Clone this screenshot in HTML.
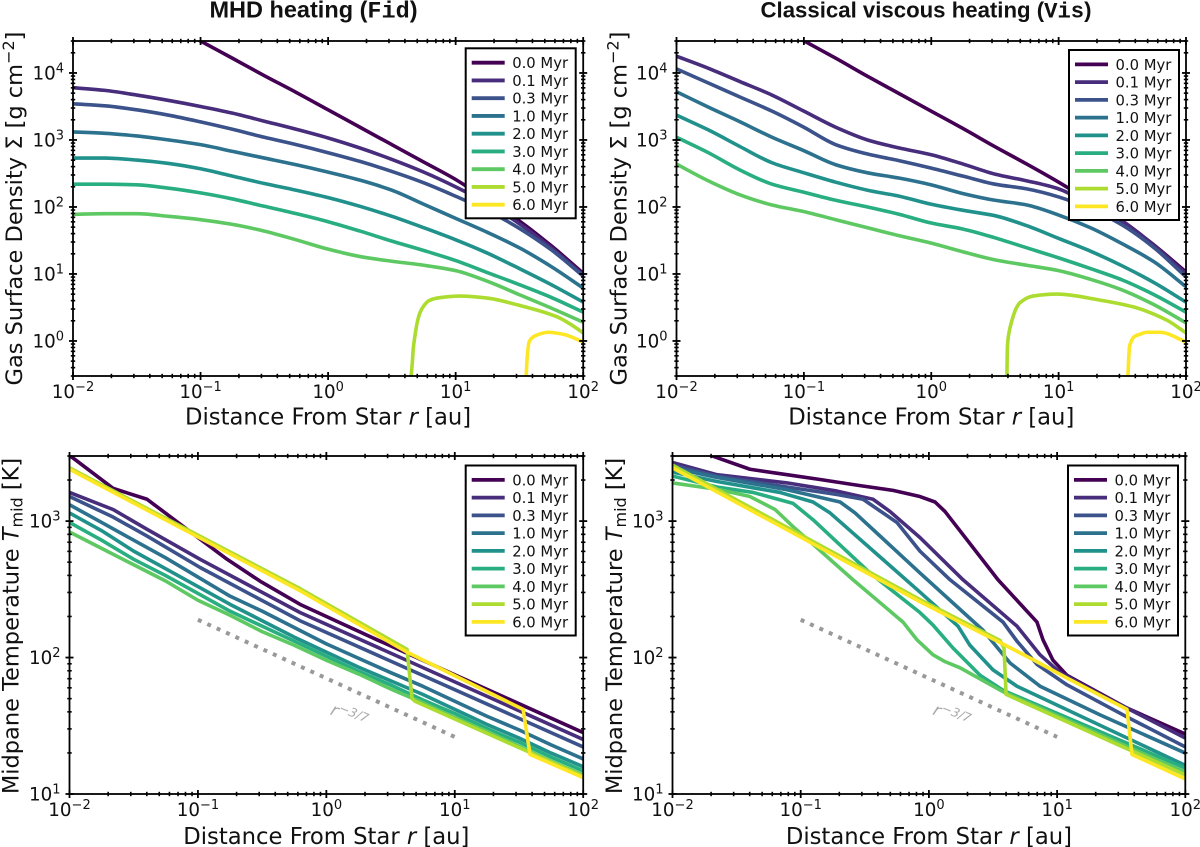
<!DOCTYPE html>
<html lang="en">
<head>
<meta charset="utf-8">
<title>Gas surface density and midplane temperature evolution</title>
<style>
html,body{margin:0;padding:0;background:#fff;width:1200px;height:847px;overflow:hidden}
svg{display:block}
text{font-family:"DejaVu Sans","Liberation Sans",sans-serif;fill:#111}
.title{font-family:"Liberation Sans",sans-serif;font-weight:700;font-size:23.5px}
.mono{font-family:"Liberation Mono","DejaVu Sans Mono",monospace;font-weight:700}
</style>
</head>
<body>
<svg id="figure" xmlns="http://www.w3.org/2000/svg" width="1200" height="847" viewBox="0 0 1200 847">
<rect width="1200" height="847" fill="#fff"/>
<text class="title" x="313.5" y="17.5" text-anchor="middle">MHD heating (<tspan class="mono">Fid</tspan>)</text>
<text class="title" x="926" y="17.5" text-anchor="middle" style="font-size:22.2px">Classical viscous heating (<tspan class="mono">Vis</tspan>)</text>
</svg>
<script>
// All values are log10 of the physical quantity.
const ageLabels = ['0.0 Myr','0.1 Myr','0.3 Myr','1.0 Myr','2.0 Myr','3.0 Myr','4.0 Myr','5.0 Myr','6.0 Myr'];
const radiusGrid = [-2,-1.75,-1.5,-1.25,-1,-0.75,-0.5,-0.25,0,0.25,0.5,0.75,1,1.25,1.5,1.75,2];
const xTickExponents = [-2,-1,0,1,2];
const sigmaTickExponents = [0,1,2,3,4];
const tempTickExponents = [1,2,3];

// MHD heating: surface density
const fidSigma00 = [null,null,null,4.74,4.477,4.22,3.96,3.71,3.45,3.19,2.93,2.67,2.41,2.10,1.79,1.42,1.01];
const fidSigma01 = [3.78,3.74,3.67,3.59,3.50,3.40,3.28,3.16,3.03,2.88,2.71,2.52,2.30,2.05,1.75,1.39,0.985];
const fidSigma03 = [3.54,3.51,3.45,3.37,3.27,3.16,3.04,2.93,2.81,2.68,2.53,2.36,2.16,1.945,1.68,1.36,0.97];
const fidSigma10 = [3.12,3.10,3.06,3.00,2.93,2.83,2.73,2.63,2.52,2.40,2.25,2.04,1.83,1.62,1.39,1.11,0.79];
const fidSigma20 = [2.73,2.73,2.70,2.65,2.57,2.46,2.35,2.25,2.14,2.01,1.86,1.69,1.51,1.31,1.08,0.84,0.58];
const fidSigma30 = [2.34,2.34,2.33,2.28,2.21,2.12,2.01,1.90,1.78,1.64,1.49,1.35,1.20,1.02,0.84,0.65,0.43];
const fidSigma40 = [1.89,1.90,1.90,1.86,1.81,1.74,1.64,1.51,1.37,1.26,1.19,1.13,1.05,0.89,0.69,0.49,0.28];
const fidSigmaR50 = [0.651,0.66,0.667,0.682,0.698,0.72,0.745,0.79,0.855,1.035,1.247,1.482,1.796,1.90,2];
const fidSigma50 = [-0.52,-0.33,-0.13,0.09,0.27,0.42,0.51,0.60,0.64,0.67,0.64,0.54,0.36,0.25,0.12];
const fidSigmaR60 = [1.553,1.561,1.576,1.608,1.639,1.725,1.843,2];
const fidSigma60 = [-0.52,-0.24,-0.015,0.06,0.09,0.13,0.10,-0.015];

// Classical viscous heating: surface density
const visSigma00 = [null,null,null,4.74,4.48,4.22,3.95,3.69,3.43,3.17,2.90,2.64,2.37,2.08,1.79,1.43,1.03];
const visSigma01 = [4.25,4.07,3.87,3.67,3.43,3.19,3.0,2.88,2.78,2.64,2.49,2.39,2.27,2.03,1.78,1.42,1.0];
const visSigma03 = [4.06,3.85,3.64,3.43,3.19,2.93,2.79,2.69,2.58,2.46,2.34,2.27,2.15,1.97,1.73,1.39,0.955];
const visSigma10 = [3.72,3.49,3.27,3.04,2.84,2.63,2.51,2.43,2.33,2.20,2.10,2.03,1.88,1.69,1.45,1.18,0.81];
const visSigma20 = [3.37,3.15,2.90,2.66,2.51,2.37,2.25,2.16,2.04,1.95,1.87,1.72,1.53,1.34,1.12,0.87,0.58];
const visSigma30 = [3.04,2.81,2.55,2.34,2.22,2.10,2.0,1.89,1.76,1.67,1.54,1.39,1.24,1.08,0.91,0.69,0.43];
const visSigma40 = [2.64,2.39,2.18,2.03,1.93,1.81,1.69,1.57,1.46,1.33,1.21,1.13,1.05,0.92,0.76,0.54,0.27];
const visSigmaR50 = [0.594,0.598,0.61,0.634,0.665,0.696,0.798,0.987,1.324,1.583,1.85,2];
const visSigma50 = [-0.52,-0.09,0.12,0.31,0.48,0.57,0.67,0.70,0.61,0.51,0.31,0.12];
const visSigmaR60 = [1.544,1.556,1.568,1.591,1.638,1.693,1.795,2];
const visSigma60 = [-0.52,-0.09,-0.015,0.06,0.10,0.13,0.13,-0.015];

// MHD heating: midplane temperature
const fidTempR00 = [-2,-1.661,-1.396,-1.085,-0.773,-0.516,-0.205,0.395,2];
const fidTemp00 = [3.482,3.24,3.16,2.94,2.72,2.56,2.39,2.13,1.45];
const fidTempR01 = [-2,-1.661,-1.396,-0.983,-0.205,2];
const fidTemp01 = [3.21,3.085,2.94,2.72,2.33,1.40];
const fidTemp03 = [3.18,3.03,2.89,2.66,2.27,1.345];
const fidTemp10 = [3.12,2.99,2.86,2.73,2.59,2.45,2.34,2.22,2.10,1.995,1.89,1.79,1.68,1.57,1.47,1.36,1.257];
const fidTemp20 = [3.06,2.93,2.78,2.65,2.52,2.39,2.27,2.15,2.04,1.93,1.83,1.73,1.62,1.51,1.41,1.30,1.20];
const fidTemp30 = [2.99,2.86,2.72,2.60,2.47,2.34,2.23,2.12,2.01,1.90,1.80,1.69,1.59,1.48,1.38,1.27,1.17];
const fidTemp40 = [2.92,2.80,2.68,2.56,2.42,2.31,2.19,2.09,1.98,1.88,1.77,1.67,1.56,1.46,1.35,1.24,1.14];
const fidTempR50 = [-2,-0.205,0.628,0.667,0.69,2];
const fidTemp50 = [3.39,2.505,2.06,1.70,1.68,1.13];
const fidTempR60 = [-2,-0.205,0.628,1.532,1.586,2];
const fidTemp60 = [3.38,2.49,2.04,1.62,1.29,1.12];

// Classical viscous heating: midplane temperature
const visTempR00 = [-1.785,-1.668,-1.396,-1.107,-0.849,-0.537,-0.28,-0.07,0.048,0.126,0.539,0.843,0.89,0.968,1.077,1.545,2];
const visTemp00 = [3.511,3.47,3.38,3.34,3.305,3.26,3.225,3.18,3.14,3.07,2.57,2.26,2.13,1.98,1.87,1.63,1.44];
const visTempR01 = [-2,-1.653,-1.107,-0.717,-0.436,-0.303,-0.07,0.266,0.687,0.867,1.023,1.335,2];
const visTemp01 = [3.43,3.34,3.28,3.22,3.16,3.07,2.88,2.57,2.23,2.02,1.89,1.73,1.41];
const visTempR03 = [-2,-1.653,-1.107,-0.717,-0.514,-0.249,-0.07,0.165,0.578,0.687,0.843,1.077,1.545,2];
const visTemp03 = [3.41,3.33,3.25,3.195,3.16,2.99,2.78,2.57,2.26,2.12,1.95,1.80,1.565,1.345];
const visTempR10 = [-2,-1.653,-1.107,-0.693,-0.576,-0.07,0.422,0.633,0.867,1.335,2];
const visTemp10 = [3.39,3.32,3.23,3.14,3.06,2.62,2.20,1.96,1.79,1.58,1.30];
const visTempR20 = [-2,-1.653,-1.162,-0.904,-0.771,-0.07,0.227,0.32,0.5,0.687,2];
const visTemp20 = [3.36,3.29,3.21,3.14,3.06,2.48,2.23,2.09,1.91,1.79,1.21];
const visTempR30 = [-2,-1.653,-1.372,-1.06,-0.904,-0.46,-0.07,0.03,0.188,0.399,0.578,2];
const visTemp30 = [3.33,3.25,3.21,3.13,3.01,2.62,2.33,2.24,2.07,1.87,1.76,1.19];
const visTempR40 = [-2,-1.63,-1.396,-1.2,-1.06,-0.592,-0.202,-0.093,0.032,0.126,0.243,0.578,2];
const visTemp40 = [3.28,3.23,3.18,3.085,2.96,2.57,2.26,2.13,2.02,1.97,1.925,1.75,1.16];
const visTempR50 = [-2,-0.07,0.555,0.586,0.602,2];
const visTemp50 = [3.41,2.425,2.125,2.07,1.73,1.14];
const visTempR60 = [-2,-0.07,0.555,0.812,1.077,1.545,1.584,2];
const visTemp60 = [3.39,2.41,2.11,1.985,1.85,1.62,1.29,1.11];

// r^-3/7 guide line
const guideRadius = [-1,1];
const guideTemp = [2.277,1.4185];

const seriesColors = ['#440154','#472d7b','#3b528b','#2c728e','#21918c','#28ae80','#5ec962','#addc30','#fde725'];
const SVG_NS = 'http://www.w3.org/2000/svg';
const figure = document.getElementById('figure');

function node(tag, parent, attrs) {
  const el = document.createElementNS(SVG_NS, tag);
  for (const k in attrs) el.setAttribute(k, attrs[k]);
  parent.appendChild(el);
  return el;
}

function powerLabel(parent, x, y, exponent, anchor, name) {
  const t = node('text', parent, {x: x, y: y, 'text-anchor': anchor, 'font-size': 18.3});
  
  
  t.appendChild(document.createTextNode('10'));
  const s = node('tspan', t, {dy: -7, 'font-size': 13});
  s.textContent = String(exponent).replace('-', '\u2212');
  return t;
}

// Shape-preserving curve through pixel points (no overshoot).
function smoothPath(pts) {
  const n = pts.length, d = [], m = [];
  for (let i = 0; i < n - 1; i++) d.push((pts[i + 1][1] - pts[i][1]) / (pts[i + 1][0] - pts[i][0]));
  m[0] = d[0];
  m[n - 1] = d[n - 2];
  for (let i = 1; i < n - 1; i++) {
    if (d[i - 1] * d[i] <= 0) { m[i] = 0; continue; }
    const h0 = pts[i][0] - pts[i - 1][0], h1 = pts[i + 1][0] - pts[i][0];
    m[i] = (h0 + h1) * 3 / ((2 * h1 + h0) / d[i - 1] + (h1 + 2 * h0) / d[i]);
  }
  let out = 'M' + pts[0][0].toFixed(2) + ' ' + pts[0][1].toFixed(2);
  for (let i = 0; i < n - 1; i++) {
    const h = (pts[i + 1][0] - pts[i][0]) / 3;
    out += 'C' + (pts[i][0] + h).toFixed(2) + ' ' + (pts[i][1] + m[i] * h).toFixed(2) + ' ' +
      (pts[i + 1][0] - h).toFixed(2) + ' ' + (pts[i + 1][1] - m[i + 1] * h).toFixed(2) + ' ' +
      pts[i + 1][0].toFixed(2) + ' ' + pts[i + 1][1].toFixed(2);
  }
  return out;
}

function sharpPath(pts) {
  return 'M' + pts.map(q => q[0].toFixed(2) + ' ' + q[1].toFixed(2)).join('L');
}

function drawPanel(p) {
  const g = node('g', figure, {});
  
  
  const xPos = d => p.left + (d + 2) * (p.right - p.left) / 4;
  const yPos = d => p.bottom - (d - p.yMin) * (p.bottom - p.top) / (p.yMax - p.yMin);

  const clip = node('clipPath', g, {id: p.name + '-clip'});
  node('rect', clip, {x: p.left, y: p.top, width: p.right - p.left, height: p.bottom - p.top});
  const plot = node('g', g, {'clip-path': 'url(#' + p.name + '-clip)'});
  
  

  p.series.forEach((s, i) => {
    const r = s[0], v = s[1];
    const pts = [];
    v.forEach((val, j) => { if (val !== null) pts.push([xPos(r[j]), yPos(val)]); });
    const line = node('path', plot, {d: p.guide ? sharpPath(pts) : smoothPath(pts), fill: 'none', stroke: seriesColors[i], 'stroke-width': 3.6, 'stroke-linejoin': 'round'});
    
    
  });

  if (p.guide) {
    const guide = node('line', plot, {x1: xPos(guideRadius[0]), y1: yPos(guideTemp[0]), x2: xPos(guideRadius[1]), y2: yPos(guideTemp[1]), stroke: '#999', 'stroke-width': 4, 'stroke-dasharray': '4 6.3'});
    
    
    const label = node('text', g, {transform: 'translate(' + (xPos(0) + 3) + ',' + (yPos(1.585)) + ') rotate(22)', 'font-size': 17});
    
    
    label.style.fill = '#aaa';
    const r1 = node('tspan', label, {'font-style': 'italic'});
    r1.textContent = 'r';
    const r2 = node('tspan', label, {dy: -6, 'font-size': 12.5, 'font-style': 'italic'});
    r2.textContent = '\u22123/7';
  }

  // frame
  const frame = node('rect', g, {x: p.left, y: p.top, width: p.right - p.left, height: p.bottom - p.top, fill: 'none', stroke: '#000', 'stroke-width': 1.8});
  
  

  // ticks
  const ticks = node('g', g, {stroke: '#000'});
  
  
  const xTick = (d, len, w) => {
    const x = xPos(d);
    node('line', ticks, {x1: x, x2: x, y1: p.bottom - len, y2: p.bottom + len, 'stroke-width': w});
    node('line', ticks, {x1: x, x2: x, y1: p.top - len, y2: p.top + len, 'stroke-width': w});
  };
  const yTick = (d, len, w) => {
    const y = yPos(d);
    node('line', ticks, {x1: p.left - len, x2: p.left + len, y1: y, y2: y, 'stroke-width': w});
    node('line', ticks, {x1: p.right - len, x2: p.right + len, y1: y, y2: y, 'stroke-width': w});
  };
  for (let e = -2; e <= 2; e++) {
    xTick(e, 4, 1.8);
    if (e < 2) for (let m = 2; m < 10; m++) xTick(e + Math.log10(m), 2.2, 1.6);
  }
  for (let e = Math.floor(p.yMin); e <= Math.ceil(p.yMax); e++) {
    if (e >= p.yMin && e <= p.yMax) yTick(e, 4, 1.8);
    for (let m = 2; m < 10; m++) {
      const d = e + Math.log10(m);
      if (d >= p.yMin && d <= p.yMax) yTick(d, 2.2, 1.6);
    }
  }

  xTickExponents.forEach(e => {
    powerLabel(g, xPos(e), p.bottom + 22, e, 'middle', 'x-tick-label-' + e);
  });
  p.yTicks.forEach(e => {
    powerLabel(g, p.left - 9, yPos(e) + 6.5, e, 'end', 'y-tick-label-' + e);
  });

  // x axis title
  const xt = node('text', g, {x: (p.left + p.right) / 2, y: p.bottom + p.xTitleDy, 'text-anchor': 'middle', 'font-size': 22.7});
  
  
  xt.appendChild(document.createTextNode('Distance From Star '));
  const xi = node('tspan', xt, {'font-style': 'italic'});
  xi.textContent = 'r';
  xt.appendChild(document.createTextNode(' [au]'));

  // y axis title
  const yt = node('text', g, {transform: 'translate(' + p.yTitleX + ',' + ((p.top + p.bottom) / 2 + p.yTitleShift) + ') rotate(-90)', 'text-anchor': 'middle', 'font-size': 22.5});
  
  
  p.yTitle(yt);

  // legend
  const leg = node('g', g, {});
  
  
  const box = node('rect', leg, {x: p.legLeft, y: p.legTop, width: 110, height: 170, fill: '#fff', stroke: '#000', 'stroke-width': 2});
  
  
  ageLabels.forEach((lab, i) => {
    const ry = p.legTop + 14.4 + i * 17.75;
    const sw = node('line', leg, {x1: p.legLeft + 6, x2: p.legLeft + 39, y1: ry, y2: ry, stroke: seriesColors[i], 'stroke-width': 3.8});
    
    
    const tx = node('text', leg, {x: p.legLeft + 46.5, y: ry + 5.4, 'font-size': 14.8});
    
    
    tx.textContent = lab;
  });
}

function sigmaTitle(t) {
  t.appendChild(document.createTextNode('Gas Surface Density \u03A3 [g cm'));
  const s = node('tspan', t, {dy: -8, 'font-size': 16});
  s.textContent = '\u22122';
  const e = node('tspan', t, {dy: 8});
  e.textContent = ']';
}

function tempTitle(t) {
  t.appendChild(document.createTextNode('Midpane Temperature '));
  const i = node('tspan', t, {'font-style': 'italic'});
  i.textContent = 'T';
  const s = node('tspan', t, {dy: 4, 'font-size': 16});
  s.textContent = 'mid';
  const e = node('tspan', t, {dy: -4});
  e.textContent = ' [K]';
}

drawPanel({
  name: 'fid-surface-density-panel', left: 73, right: 583.2, top: 41, bottom: 376,
  yMin: Math.log10(0.3), yMax: Math.log10(30000), yTicks: sigmaTickExponents,
  legLeft: 465.7, legTop: 48.3, xTitleDy: 48.5, yTitleX: 22, yTitleShift: 0, yTitle: sigmaTitle,
  series: [[radiusGrid,fidSigma00],[radiusGrid,fidSigma01],[radiusGrid,fidSigma03],[radiusGrid,fidSigma10],[radiusGrid,fidSigma20],[radiusGrid,fidSigma30],[radiusGrid,fidSigma40],[fidSigmaR50,fidSigma50],[fidSigmaR60,fidSigma60]]
});
drawPanel({
  name: 'vis-surface-density-panel', left: 676.5, right: 1186, top: 41, bottom: 376,
  yMin: Math.log10(0.3), yMax: Math.log10(30000), yTicks: sigmaTickExponents,
  legLeft: 1069, legTop: 50, xTitleDy: 48.5, yTitleX: 626.5, yTitleShift: 0, yTitle: sigmaTitle,
  series: [[radiusGrid,visSigma00],[radiusGrid,visSigma01],[radiusGrid,visSigma03],[radiusGrid,visSigma10],[radiusGrid,visSigma20],[radiusGrid,visSigma30],[radiusGrid,visSigma40],[visSigmaR50,visSigma50],[visSigmaR60,visSigma60]]
});
drawPanel({
  name: 'fid-temperature-panel', left: 69.5, right: 583.2, top: 456, bottom: 794,
  yMin: 1, yMax: Math.log10(3000), yTicks: tempTickExponents, guide: true,
  legLeft: 465.7, legTop: 465.5, xTitleDy: 50, yTitleX: 18.5, yTitleShift: 1, yTitle: tempTitle,
  series: [[fidTempR00,fidTemp00],[fidTempR01,fidTemp01],[fidTempR01,fidTemp03],[radiusGrid,fidTemp10],[radiusGrid,fidTemp20],[radiusGrid,fidTemp30],[radiusGrid,fidTemp40],[fidTempR50,fidTemp50],[fidTempR60,fidTemp60]]
});
drawPanel({
  name: 'vis-temperature-panel', left: 672.5, right: 1185.3, top: 456, bottom: 794,
  yMin: 1, yMax: Math.log10(3000), yTicks: tempTickExponents, guide: true,
  legLeft: 1068, legTop: 465.5, xTitleDy: 50, yTitleX: 622, yTitleShift: 1, yTitle: tempTitle,
  series: [[visTempR00,visTemp00],[visTempR01,visTemp01],[visTempR03,visTemp03],[visTempR10,visTemp10],[visTempR20,visTemp20],[visTempR30,visTemp30],[visTempR40,visTemp40],[visTempR50,visTemp50],[visTempR60,visTemp60]]
});
</script>
</body>
</html>
